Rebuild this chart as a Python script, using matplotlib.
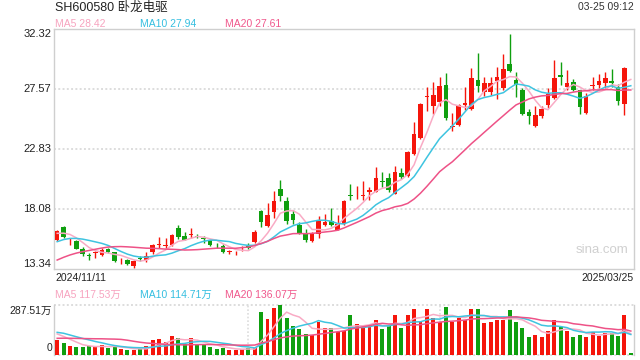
import numpy as np
import pandas as pd
import matplotlib
matplotlib.use('Agg')
import matplotlib.pyplot as plt

plt.rcParams['font.family'] = ['Liberation Sans', 'Noto Sans CJK SC', 'DejaVu Sans']

# daily candles 2024/11/11 - 2025/03/25
opens = [15.64, 16.66, 15.45, 15.55, 14.92, 14.42, 14.60, 14.45, 14.92, 14.66,
         13.95, 14.08, 13.60, 14.18, 14.05, 14.66, 15.26, 15.16, 15.24, 16.61,
         15.97, 16.06, 15.95, 15.77, 15.60, 15.15, 15.18, 14.70, 14.58, 14.90,
         15.18, 15.45, 17.93, 16.71, 17.82, 19.67, 18.72, 17.72, 16.82, 16.14,
         15.55, 16.08, 16.82, 17.14, 16.45, 16.93, 19.19, 19.00, 19.14, 19.45,
         19.45, 20.30, 20.51, 19.30, 20.93, 20.67, 22.46, 23.73, 26.93, 26.25,
         26.57, 27.89, 24.60, 24.73, 26.31, 25.99, 28.31, 27.36, 27.31, 28.21,
         27.68, 29.52, 28.26, 27.52, 25.73, 24.68, 25.41, 26.31, 26.89, 28.68,
         27.73, 28.15, 27.47, 25.68, 27.80, 27.89, 28.05, 28.21, 27.73, 26.42,
         29.29]
highs = [16.45, 16.71, 15.76, 15.60, 15.08, 14.60, 14.76, 15.03, 15.03, 14.68,
         14.18, 14.13, 14.08, 14.34, 14.70, 15.34, 15.87, 15.81, 16.14, 16.82,
         16.29, 16.61, 16.08, 15.92, 15.66, 15.40, 15.29, 14.82, 14.76, 15.13,
         15.40, 16.40, 17.98, 18.56, 19.51, 20.41, 19.04, 18.03, 17.08, 16.50,
         16.24, 17.50, 17.72, 18.19, 17.61, 18.82, 20.04, 19.93, 20.30, 19.82,
         21.41, 21.04, 20.93, 21.51, 21.30, 22.67, 24.99, 26.47, 27.70, 28.10,
         28.52, 28.84, 25.68, 26.42, 27.73, 29.21, 30.42, 28.52, 28.52, 29.31,
         30.37, 31.95, 28.89, 27.63, 25.99, 26.20, 26.20, 27.63, 29.84, 29.73,
         29.05, 28.36, 27.52, 27.26, 28.52, 28.78, 28.89, 29.16, 27.99, 29.31,
         29.29]
lows = [15.55, 15.76, 15.24, 14.90, 14.40, 14.03, 14.19, 14.34, 14.60, 13.87,
        13.71, 13.66, 13.39, 13.97, 13.92, 14.55, 15.03, 14.92, 15.19, 15.71,
        15.61, 15.76, 15.76, 15.40, 15.13, 15.03, 14.60, 14.55, 14.45, 14.76,
        14.92, 15.40, 16.66, 16.66, 17.35, 18.72, 16.93, 16.93, 16.08, 15.45,
        15.45, 15.76, 16.72, 16.72, 16.40, 16.82, 18.77, 18.88, 18.82, 18.82,
        19.40, 19.82, 19.40, 19.25, 20.46, 20.62, 22.36, 23.62, 25.84, 25.62,
        26.25, 25.10, 24.25, 24.62, 25.94, 25.94, 27.36, 27.05, 27.10, 26.78,
        27.52, 28.95, 26.94, 25.52, 24.84, 24.57, 25.31, 26.10, 26.78, 27.89,
        27.47, 27.42, 25.62, 25.62, 27.47, 27.63, 27.63, 27.73, 26.31, 25.52,
        29.29]
closes = [16.35, 15.87, 15.50, 14.95, 14.50, 14.38, 14.65, 14.82, 14.66, 13.97,
          13.99, 13.76, 13.97, 14.14, 14.35, 15.24, 15.29, 15.20, 16.03, 15.87,
          15.66, 16.10, 15.90, 15.72, 15.24, 15.13, 14.71, 14.73, 14.60, 14.95,
          14.97, 16.24, 17.08, 17.61, 18.72, 19.09, 17.14, 17.24, 16.19, 15.61,
          16.14, 17.14, 17.08, 16.82, 16.93, 18.74, 19.12, 19.04, 19.19, 19.60,
          20.51, 20.25, 19.60, 21.04, 20.62, 22.62, 24.04, 26.42, 26.97, 27.10,
          27.84, 25.31, 24.65, 26.31, 26.47, 28.47, 27.84, 28.05, 28.05, 28.52,
          29.16, 29.00, 27.89, 25.57, 25.47, 25.52, 25.99, 27.15, 28.47, 28.52,
          28.05, 27.47, 26.15, 26.99, 27.86, 28.21, 28.42, 28.05, 26.63, 29.26,
          29.29]
# volume, 万股
volumes = [85, 68, 51, 45, 45, 51, 48, 55, 40, 51,
           34, 28, 28, 34, 51, 85, 91, 74, 108, 97,
           63, 97, 57, 57, 45, 34, 40, 28, 28, 34,
           40, 40, 247, 205, 270, 285, 213, 165, 148, 121,
           114, 190, 156, 156, 133, 139, 228, 176, 156, 161,
           199, 148, 165, 228, 156, 228, 262, 190, 262, 213,
           190, 273, 190, 213, 199, 262, 262, 184, 190, 199,
           199, 256, 190, 156, 104, 114, 104, 137, 199, 161,
           137, 104, 114, 104, 133, 110, 127, 127, 110, 228,
           10]

# 19 sessions before the window, only used to seed the moving averages
pre_close = [11.6, 11.8, 12.0, 12.2, 12.5, 12.7, 12.9, 13.1, 13.4, 13.8,
             14.2, 14.6, 14.9, 15.1, 15.4, 15.8, 16.0, 16.3, 16.35]
pre_vol = [55, 58, 60, 62, 65, 60, 58, 62, 64, 66,
           120, 150, 145, 140, 135, 140, 130, 125, 120]

price_ticks = [32.32, 27.57, 22.83, 18.08, 13.34]
vol_max = 287.51
ma_lens = [5, 10, 20]
ma_colors = ['#f9abc5', '#3ec4e0', '#ee5287']
ma_txt_colors = ['#f7a3bf', '#35bfe0', '#f0588c']
ma_labels = ['MA5 28.42', 'MA10 27.94', 'MA20 27.61']
vol_ma_labels = ['MA5 117.53万', 'MA10 114.71万', 'MA20 136.07万']

RED = '#f5150b'
GREEN = '#0f9f0f'
GRID = '#dddddd'
BORDER = '#cfcfcf'

o = np.array(opens)
h = np.array(highs)
l = np.array(lows)
c = np.array(closes)
v = np.array(volumes)
x = np.arange(len(c))
cols = [RED if cc > oo else GREEN for oo, cc in zip(o, c)]

fig = plt.figure(figsize=(6.4, 3.6), dpi=100)
W, H = 640.0, 360.0


def ax_box(x0, y0, x1, y1):
    return [x0 / W, 1 - y1 / H, (x1 - x0) / W, (y1 - y0) / H]


def ftxt(px, py, s, **kw):
    fig.text(px / W, 1 - py / H, s, **kw)


# ---- price panel
ax = fig.add_axes(ax_box(54, 29, 634, 269))
ax.set_xlim(-0.5, len(c) - 0.5)
ax.set_ylim(price_ticks[-1], price_ticks[0])
for t in price_ticks[1:-1]:
    ax.axhline(t, color=GRID, lw=1.4, ls=(0, (1, 1.2)), zorder=0)

ax.vlines(x, l, h, color=cols, lw=1.0, zorder=2)
body = np.maximum(np.abs(c - o), 0.06)
ax.bar(x, body, bottom=np.minimum(o, c), width=0.72, color=cols, lw=0, zorder=3)

allc = pd.Series(pre_close + closes)
for n, col in zip(ma_lens, ma_colors):
    ma = allc.rolling(n).mean().values[len(pre_close):]
    ax.plot(x, ma, color=col, lw=1.1, zorder=4)

ax.set_xticks([])
ax.set_yticks([])
for s in ax.spines.values():
    s.set_color(BORDER)
    s.set_linewidth(1.0)

ytr = ax.get_yaxis_transform()
for i, t in enumerate(price_ticks):
    va = 'center'
    if i == 0:
        va = 'top'
    elif i == len(price_ticks) - 1:
        va = 'bottom'
    ax.text(-0.005, t, '%.2f' % t, transform=ytr, ha='right', va=va,
            fontsize=8, color='#222222')

ax.text(0.945, 0.08, 'sina.com', transform=ax.transAxes, ha='center',
        va='center', fontsize=9.5, color='#d0d0d0')

# ---- volume panel
ax2 = fig.add_axes(ax_box(54, 304.5, 634, 355))
ax2.set_xlim(-0.5, len(c) - 0.5)
ax2.set_ylim(0, vol_max)
ax2.bar(x, v, width=0.62, color=cols, lw=0, zorder=3)
allv = pd.Series(pre_vol + volumes)
for n, col in zip(ma_lens, ma_colors):
    ma = allv.rolling(n).mean().values[len(pre_vol):]
    ax2.plot(x, ma, color=col, lw=1.1, zorder=4)

ax2.axhline(vol_max, color=GRID, lw=1.4, ls=(0, (1, 1.2)), zorder=0, clip_on=False)
ax2.axhline(0, color=GRID, lw=1.4, ls=(0, (1, 1.2)), zorder=0, clip_on=False)
for xv in [30, 60]:
    ax2.axvline(xv, color=GRID, lw=1.2, ls=(0, (1, 1.2)), zorder=0)
ax2.set_xticks([])
ax2.set_yticks([])
ax2.spines['top'].set_visible(False)
ax2.spines['bottom'].set_visible(False)
for k in ['left', 'right']:
    ax2.spines[k].set_color(BORDER)
    ax2.spines[k].set_linewidth(1.0)

# ---- texts
ftxt(55, 7.5, 'SH600580 卧龙电驱', ha='left', va='center', fontsize=9, color='#222222')
ftxt(634, 7.5, '03-25 09:12', ha='right', va='center', fontsize=7.5, color='#333333')
for px, s, col in zip([55, 140, 225], ma_labels, ma_txt_colors):
    ftxt(px, 24, s, ha='left', va='center', fontsize=7.5, color=col)
ftxt(55, 278, '2024/11/11', ha='left', va='center', fontsize=7.5, color='#222222')
ftxt(634, 278, '2025/03/25', ha='right', va='center', fontsize=7.5, color='#222222')
for px, s, col in zip([55, 140, 225], vol_ma_labels, ma_txt_colors):
    ftxt(px, 295, s, ha='left', va='center', fontsize=7.5, color=col)
ftxt(52, 311.3, '287.51万', ha='right', va='center', fontsize=7.5, color='#222222')
ftxt(52, 348.3, '0', ha='right', va='center', fontsize=7.5, color='#222222')

fig.savefig('out.png', dpi=100)
